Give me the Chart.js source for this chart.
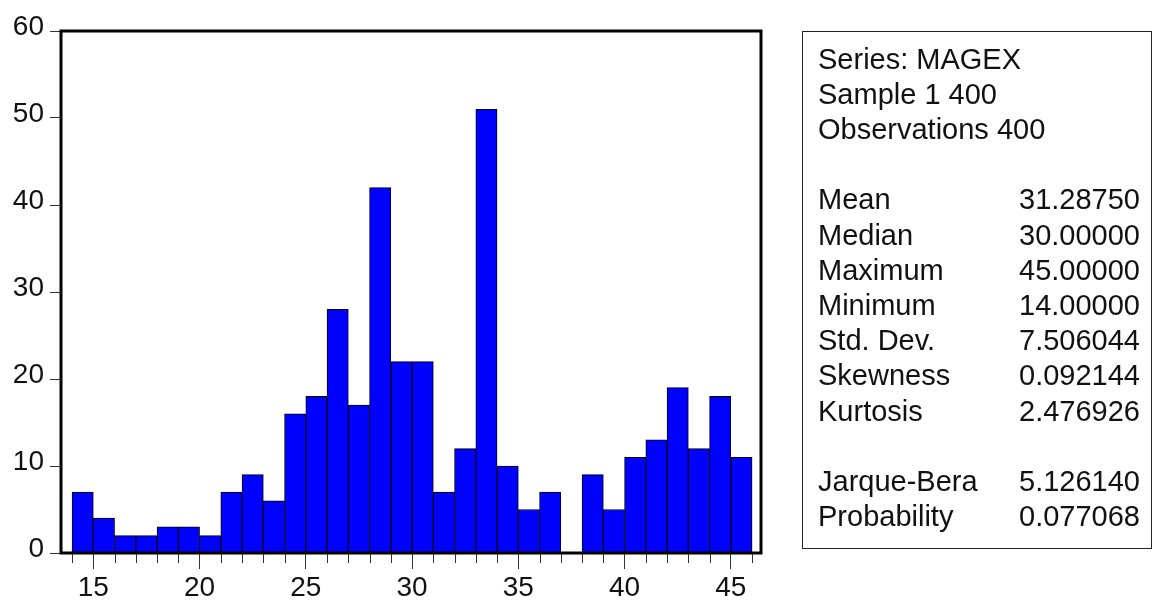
<!DOCTYPE html>
<html><head><meta charset="utf-8">
<script src="https://cdn.jsdelivr.net/npm/chart.js@4.4.1/dist/chart.umd.min.js"></script>
<style>
html,body{margin:0;padding:0;background:#fff;width:1152px;height:601px;overflow:hidden;}
#wrap{position:relative;width:1152px;height:601px;}
#c{position:absolute;left:0;top:0;}
#stats{position:absolute;left:802px;top:31px;width:350px;height:518px;border:1.5px solid #222;box-sizing:border-box;font-family:"Liberation Sans",Arial,sans-serif;font-size:29px;color:#111;}
.row{position:absolute;left:15px;height:35px;line-height:35px;white-space:nowrap;}
.val{position:absolute;left:201px;top:0;}
</style>
</head><body>
<div id="wrap">
<canvas id="c" width="1152" height="601"></canvas>
<div id="stats"></div>
</div>
<script>
// ---- data ----
const binStarts = [14,15,16,17,18,19,20,21,22,23,24,25,26,27,28,29,30,31,32,33,34,35,36,37,38,39,40,41,42,43,44,45];
const counts    = [7,4,2,2,3,3,2,7,9,6,16,18,28,17,42,22,22,7,12,51,10,5,7,0,9,5,11,13,19,12,18,11];
const xTickLabels = [15,20,25,30,35,40,45];
const yTickValues = [0,10,20,30,40,50,60];
const headerLines = ["Series: MAGEX","Sample 1 400","Observations 400"];
const statNames  = ["Mean","Median","Maximum","Minimum","Std. Dev.","Skewness","Kurtosis"];
const statValues = ["31.28750","30.00000","45.00000","14.00000","7.506044","0.092144","2.476926"];
const testNames  = ["Jarque-Bera","Probability"];
const testValues = ["5.126140","0.077068"];

// ---- stats box (real text) ----
const box = document.getElementById('stats');
function addRow(slot, name, val){
  const r = document.createElement('div');
  r.className='row';
  r.style.top = (59 + slot*35.2 - 31 - 17.5 - 1) + 'px';
  r.textContent = name;
  if(val!==undefined){const v=document.createElement('span');v.className='val';v.textContent=val;r.appendChild(v);}
  box.appendChild(r);
}
headerLines.forEach((t,i)=>addRow(i,t));
statNames.forEach((t,i)=>addRow(4+i,t,statValues[i]));
testNames.forEach((t,i)=>addRow(12+i,t,testValues[i]));

// ---- chart ----
const FONT = {family:'"Liberation Sans", Arial, sans-serif', size:28};
const framePlugin = {
  id:'frame',
  afterDraw(chart){
    const {ctx, chartArea:a, scales} = chart;
    const xs = scales.x;
    ctx.save();
    ctx.strokeStyle = '#333';
    ctx.lineWidth = 1;
    xs.ticks.forEach(t=>{
      if(t.value % 5 !== 0){
        const px = Math.round(xs.getPixelForValue(t.value)) + 0.5;
        ctx.beginPath(); ctx.moveTo(px, a.bottom); ctx.lineTo(px, a.bottom + 10); ctx.stroke();
      }
    });
    ctx.strokeStyle = '#000';
    ctx.lineWidth = 3;
    ctx.strokeRect(a.left, a.top, a.right - a.left, a.bottom - a.top);
    ctx.restore();
  }
};

new Chart(document.getElementById('c'), {
  type:'bar',
  data:{datasets:[{
    data: binStarts.map((b,i)=>({x:b+0.5, y:counts[i]})),
    backgroundColor:'#0000FF',
    borderColor:'#000',
    borderWidth: c => (c.raw && c.raw.y === 0) ? 0 : 1,
    borderSkipped:false,
    barPercentage:1,
    categoryPercentage:1
  }]},
  options:{
    responsive:false,
    animation:false,
    devicePixelRatio:1,
    layout:{padding:{left:0, top:31, right:391, bottom:0}},
    plugins:{legend:{display:false}, tooltip:{enabled:false}},
    scales:{
      x:{
        type:'linear', min:13.48, max:46.42, offset:false,
        afterBuildTicks(s){ s.ticks = binStarts.concat([46]).map(v=>({value:v})); },
        afterFit(s){ s.height = 48; },
        border:{display:false},
        grid:{display:true, drawOnChartArea:false, drawTicks:true, tickLength:16, tickWidth:1, offset:false,
              tickColor: c => (c.tick && c.tick.value % 5 === 0) ? '#333' : 'rgba(0,0,0,0)'},
        ticks:{autoSkip:false, maxRotation:0, minRotation:0, padding:2, font:FONT, color:'#111',
               callback: v => xTickLabels.includes(v) ? String(v) : ''}
      },
      y:{
        min:0, max:60,
        afterBuildTicks(s){ s.ticks = yTickValues.map(v=>({value:v})); },
        afterFit(s){ s.width = 61; },
        border:{display:false},
        grid:{display:true, drawOnChartArea:false, drawTicks:true, tickLength:11, tickColor:'#333', tickWidth:1},
        ticks:{padding:6, labelOffset:-4, font:FONT, color:'#111'}
      }
    }
  },
  plugins:[framePlugin]
});
</script>
</body></html>
